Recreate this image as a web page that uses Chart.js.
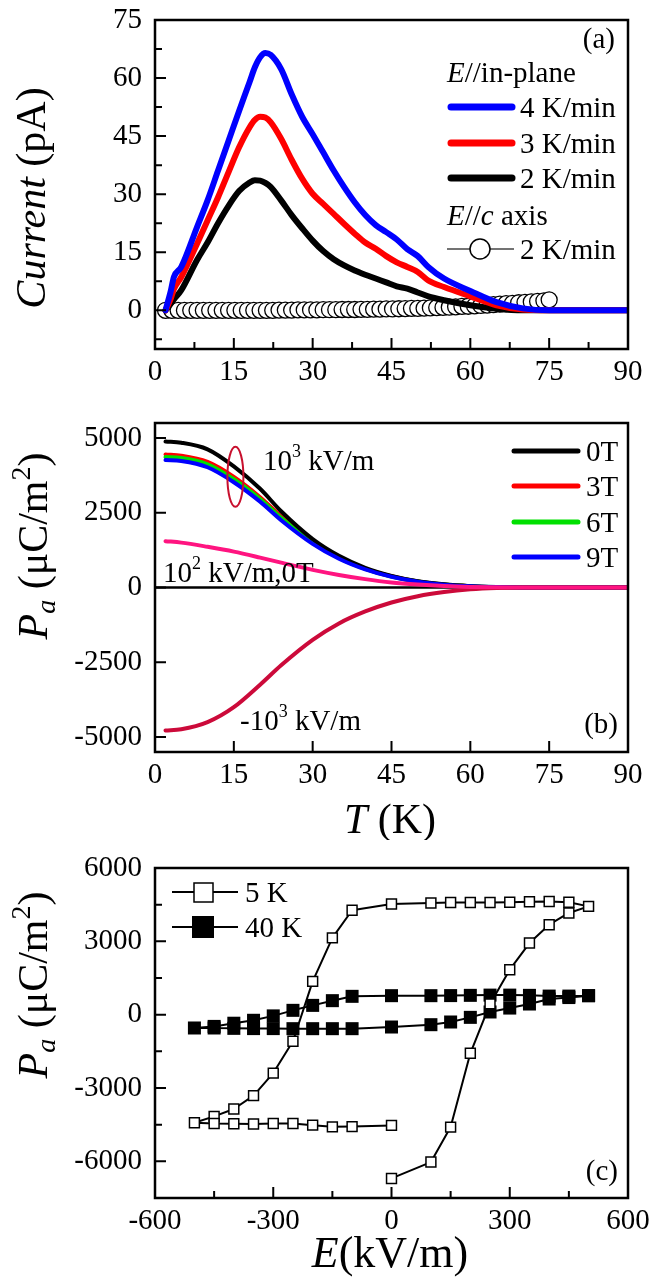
<!DOCTYPE html>
<html>
<head>
<meta charset="utf-8">
<script src="https://cdn.jsdelivr.net/npm/chart.js@4.4.1/dist/chart.umd.min.js"></script>
<style>
  html, body { margin: 0; padding: 0; background: #fff; }
  .panel { position: absolute; left: 0; width: 656px; }
  #pa { top: 0; height: 400px; }
  #pb { top: 400px; height: 440px; }
  #pc { top: 840px; height: 446px; }
  #warm { position: absolute; left: -1000px; top: 0; font-family: "Liberation Serif"; font-size: 20px; }
</style>
</head>
<body>
<div id="warm">0123 <i>Current</i> μC</div>
<div class="panel" id="pa"><canvas id="chartA"></canvas></div>
<div class="panel" id="pb"><canvas id="chartB"></canvas></div>
<div class="panel" id="pc"><canvas id="chartC"></canvas></div>
<script>
const FONT = '"Liberation Serif", "DejaVu Serif", serif';

// panel (a): pyroelectric current
const tempA = [2, 3, 3.6, 5, 8, 10, 12, 14, 16, 18, 19, 20, 21, 22, 24, 26, 28, 30, 32, 34, 36, 38, 40, 42, 44, 46, 48, 50, 52, 55, 60, 65, 70, 75, 80, 85, 90];
const cur4K = [0, 5.0, 8.6, 11.2, 21.5, 28.4, 36.1, 43.8, 51.5, 59.0, 62.8, 65.4, 66.5, 66.0, 62.3, 55.8, 50.0, 45.5, 40.8, 36.1, 31.8, 27.9, 24.6, 22.0, 20.2, 18.3, 15.8, 14.0, 11.2, 8.2, 5.0, 2.1, 0.5, 0, 0, 0, 0];
const cur3K = [0, 3.0, 5.5, 8.6, 17.2, 23.2, 29.2, 35.7, 42.1, 47.3, 49.2, 50.0, 49.8, 48.6, 44.3, 38.9, 34.0, 30.1, 27.5, 24.9, 22.3, 19.8, 17.5, 15.9, 14.0, 12.4, 11.2, 9.9, 7.7, 6.0, 3.6, 1.3, 0.2, 0, 0, 0, 0];
const cur2K = [0, 1.7, 2.8, 5.2, 13.0, 17.5, 22.5, 27.0, 30.8, 33.0, 33.6, 33.5, 32.9, 31.9, 28.4, 24.6, 21.2, 18.0, 15.3, 13.2, 11.6, 10.3, 9.2, 8.2, 7.2, 6.2, 5.6, 4.6, 3.6, 2.6, 1.3, 0.4, 0, 0, 0, 0, 0];
const tempCax = [2, 3.2, 4.4, 5.6, 6.8, 8, 9.2, 10.4, 11.6, 12.8, 14, 15.2, 16.4, 17.6, 18.8, 20, 21.2, 22.4, 23.6, 24.8, 26, 27.2, 28.4, 29.6, 30.8, 32, 33.2, 34.4, 35.6, 36.8, 38, 39.2, 40.4, 41.6, 42.8, 44, 45.2, 46.4, 47.6, 48.8, 50, 51.2, 52.4, 53.6, 54.8, 56, 57.2, 58.4, 59.6, 60.8, 62, 63.2, 64.4, 65.6, 66.8, 68, 69.2, 70.4, 71.6, 72.8, 74, 75];
const curCax = [0, 0, 0, 0, 0, 0, 0, 0, 0, 0, 0, 0, 0, 0, 0, 0, 0, 0, 0.05, 0.05, 0.05, 0.1, 0.1, 0.1, 0.1, 0.15, 0.15, 0.15, 0.2, 0.2, 0.2, 0.25, 0.25, 0.3, 0.3, 0.35, 0.35, 0.4, 0.45, 0.5, 0.5, 0.55, 0.6, 0.7, 0.75, 0.8, 0.9, 1.0, 1.05, 1.15, 1.25, 1.35, 1.45, 1.6, 1.7, 1.8, 1.95, 2.05, 2.15, 2.3, 2.45, 2.7];
const namesA = ['4 K/min', '3 K/min', '2 K/min'];
const xTicksA = [0, 15, 30, 45, 60, 75, 90];
const xMinorA = [7.5, 22.5, 37.5, 52.5, 67.5, 82.5];
const yTicksA = [0, 15, 30, 45, 60, 75];
const yMinorA = [-7.5, 7.5, 22.5, 37.5, 52.5, 67.5];

// panel (b): polarization vs T
const tempB = [2, 5, 10, 15, 20, 24, 30, 35, 40, 45, 50, 55, 60, 65, 70, 75, 80, 85, 90];
const pol0T = [4880, 4840, 4620, 4050, 3300, 2550, 1620, 1060, 660, 390, 210, 105, 45, 15, 3, 0, 0, 0, 0];
const pol3T = [4450, 4410, 4200, 3700, 3020, 2380, 1540, 1010, 635, 375, 200, 100, 42, 14, 3, 0, 0, 0, 0];
const pol6T = [4360, 4330, 4120, 3620, 2960, 2330, 1510, 990, 625, 370, 198, 99, 41, 14, 3, 0, 0, 0, 0];
const pol9T = [4260, 4230, 4020, 3520, 2870, 2250, 1460, 960, 605, 360, 193, 96, 40, 13, 3, 0, 0, 0, 0];
const polLow = [1550, 1500, 1360, 1200, 1000, 830, 590, 420, 280, 170, 100, 50, 20, 6, 0, 0, 0, 0, 0];
const polNeg = [-4780, -4740, -4500, -4000, -3250, -2600, -1750, -1200, -800, -500, -290, -150, -60, -15, 0, 0, 0, 0, 0];
const namesB = ['0T', '3T', '6T', '9T'];
const xTicksB = [0, 15, 30, 45, 60, 75, 90];
const yTicksB = [-5000, -2500, 0, 2500, 5000];

// panel (c): P-E loops
const field5K = [0, 100, 150, 200, 250, 300, 350, 400, 450, 500, 450, 400, 350, 300, 250, 200, 150, 100, 0, -100, -150, -200, -250, -300, -350, -400, -450, -500, -450, -400, -350, -300, -250, -200, -150, -100, 0];
const pol5K = [-6700, -6030, -4600, -1580, 440, 1840, 2930, 3680, 4160, 4430, 4600, 4630, 4620, 4600, 4590, 4590, 4590, 4570, 4530, 4270, 3140, 1360, -1090, -2390, -3310, -3860, -4160, -4420, -4450, -4460, -4470, -4450, -4450, -4520, -4590, -4580, -4530];
const field40K = [500, 450, 400, 350, 300, 250, 200, 150, 100, 0, -100, -150, -200, -250, -300, -350, -400, -450, -500, -450, -400, -350, -300, -250, -200, -150, -100, 0, 100, 150, 200, 250, 300, 350, 400, 450, 500];
const pol40K = [777, 760, 760, 790, 800, 800, 790, 780, 777, 777, 750, 573, 380, 177, -50, -230, -350, -480, -545, -545, -560, -570, -570, -573, -573, -573, -573, -505, -410, -300, -110, 110, 270, 436, 640, 700, 777];
const namesC = ['5 K', '40 K'];
const xTicksC = [-600, -300, 0, 300, 600];
const xMinorC = [-450, -150, 150, 450];
const yTicksC = [-6000, -3000, 0, 3000, 6000];
const yMinorC = [-4500, -1500, 1500, 4500];

const f = s => s + 'px ' + FONT;
const fi = s => 'italic ' + s + 'px ' + FONT;

function pts(xs, ys) {
  return xs.map((x, i) => ({ x: x, y: ys[i] }));
}

function axis(min, max, ticks, size, isX) {
  return {
    type: 'linear', min: min, max: max,
    grid: { display: false, drawTicks: false },
    border: { display: false },
    ticks: {
      font: { family: FONT, size: 29 }, color: '#000',
      padding: isX ? 6 : 13, autoSkip: false, maxRotation: 0,
      callback: v => String(v)
    },
    afterBuildTicks: s => { s.ticks = ticks.map(v => ({ value: v })); },
    afterFit: s => {
      if (isX) s.height = size; else s.width = size;
      s.paddingTop = s.paddingBottom = s.paddingLeft = s.paddingRight = 0;
    }
  };
}

// mixed-font text: parts = [[text, font, dy], ...], y is the baseline
function runs(ctx, parts, x, y, align) {
  let w = 0;
  parts.forEach(p => { ctx.font = p[1]; w += ctx.measureText(p[0]).width; });
  let cx = align === 'center' ? x - w / 2 : (align === 'right' ? x - w : x);
  ctx.textAlign = 'left';
  ctx.textBaseline = 'alphabetic';
  parts.forEach(p => {
    ctx.font = p[1];
    ctx.fillText(p[0], cx, y + (p[2] || 0));
    cx += ctx.measureText(p[0]).width;
  });
}

function vtitle(ctx, parts, x, y) {
  ctx.save();
  ctx.translate(x, y);
  ctx.rotate(-Math.PI / 2);
  runs(ctx, parts, 0, 0, 'center');
  ctx.restore();
}

function seg(ctx, x1, y1, x2, y2) {
  ctx.beginPath(); ctx.moveTo(x1, y1); ctx.lineTo(x2, y2); ctx.stroke();
}

function drawFrame(chart, xMajor, xMinor, yMajor, yMinor) {
  const ctx = chart.ctx, a = chart.chartArea, x = chart.scales.x, y = chart.scales.y;
  ctx.save();
  ctx.strokeStyle = '#000';
  ctx.lineWidth = 2;
  ctx.beginPath();
  xMajor.forEach(v => { const p = x.getPixelForValue(v); ctx.moveTo(p, a.bottom); ctx.lineTo(p, a.bottom - 11); });
  xMinor.forEach(v => { const p = x.getPixelForValue(v); ctx.moveTo(p, a.bottom); ctx.lineTo(p, a.bottom - 7); });
  yMajor.forEach(v => { const p = y.getPixelForValue(v); ctx.moveTo(a.left, p); ctx.lineTo(a.left + 11, p); });
  yMinor.forEach(v => { const p = y.getPixelForValue(v); ctx.moveTo(a.left, p); ctx.lineTo(a.left + 7, p); });
  ctx.stroke();
  ctx.lineWidth = 2.5;
  ctx.strokeRect(a.left, a.top, a.right - a.left, a.bottom - a.top);
  ctx.restore();
}

function baseOptions(padTop, xs, ys) {
  return {
    responsive: true, maintainAspectRatio: false, animation: false, devicePixelRatio: 1,
    layout: { padding: { top: padTop, right: 28, left: 0, bottom: 0 } },
    plugins: { legend: { display: false }, tooltip: { enabled: false } },
    scales: { x: xs, y: ys },
    elements: { point: { radius: 0 }, line: { borderCapStyle: 'round', borderJoinStyle: 'round' } }
  };
}

// ---------- (a) ----------
const colorsA = ['#0000ff', '#ff0000', '#000000'];
const decorA = {
  id: 'decorA',
  afterDatasetsDraw(chart) {
    const ctx = chart.ctx;
    drawFrame(chart, xTicksA, xMinorA, yTicksA, yMinorA);
    ctx.save();
    ctx.fillStyle = '#000';
    runs(ctx, [['(a)', f(29)]], 615, 48, 'right');
    runs(ctx, [['E', fi(29)], ['//in-plane', f(29)]], 447, 82, 'left');
    [107, 143, 178].forEach((yy, i) => {
      ctx.strokeStyle = colorsA[i]; ctx.lineWidth = 7; ctx.lineCap = 'round';
      seg(ctx, 451, yy, 512, yy);
      runs(ctx, [[namesA[i], f(29)]], 520, yy + 10, 'left');
    });
    runs(ctx, [['E', fi(29)], ['//', f(29)], ['c', fi(29)], [' axis', f(29)]], 447, 225, 'left');
    ctx.strokeStyle = '#444'; ctx.lineWidth = 1.5; ctx.lineCap = 'butt';
    seg(ctx, 447, 249, 514, 249);
    ctx.beginPath(); ctx.arc(480, 249, 10, 0, Math.PI * 2);
    ctx.fillStyle = '#fff'; ctx.fill();
    ctx.strokeStyle = '#000'; ctx.stroke();
    ctx.fillStyle = '#000';
    runs(ctx, [['2 K/min', f(29)]], 520, 259, 'left');
    vtitle(ctx, [['Current', fi(42)], [' (pA)', f(42)]], 45, 198);
    ctx.restore();
  }
};

// ---------- (b) ----------
const colorsB = ['#000000', '#ff0000', '#00e000', '#0000ff'];
const decorB = {
  id: 'decorB',
  beforeDatasetsDraw(chart) {
    const ctx = chart.ctx, a = chart.chartArea, y0 = chart.scales.y.getPixelForValue(0);
    ctx.save();
    ctx.strokeStyle = '#000'; ctx.lineWidth = 2.5;
    seg(ctx, a.left, y0, a.right, y0);
    ctx.restore();
  },
  afterDatasetsDraw(chart) {
    const ctx = chart.ctx, x = chart.scales.x, y = chart.scales.y;
    const o = 400;
    drawFrame(chart, xTicksB, [], yTicksB, []);
    ctx.save();
    ctx.fillStyle = '#000';
    [451, 486, 522, 557].forEach((yy, i) => {
      ctx.strokeStyle = colorsB[i]; ctx.lineWidth = 5; ctx.lineCap = 'round';
      seg(ctx, 514, yy - o, 578, yy - o);
      runs(ctx, [[namesB[i], f(29)]], 586, yy - o + 10, 'left');
    });
    runs(ctx, [['10', f(29)], ['3', f(18), -13], [' kV/m', f(29)]], 263, 470 - o, 'left');
    runs(ctx, [['10', f(29)], ['2', f(18), -13], [' kV/m,0T', f(29)]], 163, 582 - o, 'left');
    runs(ctx, [['-10', f(29)], ['3', f(18), -13], [' kV/m', f(29)]], 240, 730 - o, 'left');
    runs(ctx, [['(b)', f(29)]], 618, 733 - o, 'right');
    // ellipse marking the 10^3 kV/m curves
    ctx.strokeStyle = '#c8102e'; ctx.lineWidth = 2;
    ctx.beginPath();
    ctx.ellipse(x.getPixelForValue(15.3), y.getPixelForValue(3700), 8, 30, 0, 0, Math.PI * 2);
    ctx.stroke();
    vtitle(ctx, [['P', fi(42)], ['a', fi(28), 8], [' (\u03bcC/m', f(42)], ['2', f(28), -17], [')', f(42)]], 47, 546 - o);
    runs(ctx, [['T', fi(42)], [' (K)', f(42)]], 390, 833 - o, 'center');
    ctx.restore();
  }
};

// ---------- (c) ----------
const decorC = {
  id: 'decorC',
  afterDatasetsDraw(chart) {
    const ctx = chart.ctx;
    const o = 840;
    drawFrame(chart, xTicksC, xMinorC, yTicksC, yMinorC);
    ctx.save();
    ctx.fillStyle = '#000';
    ctx.strokeStyle = '#000'; ctx.lineWidth = 2;
    seg(ctx, 172, 892 - o, 238, 892 - o);
    seg(ctx, 172, 927 - o, 238, 927 - o);
    ctx.fillStyle = '#fff'; ctx.lineWidth = 1.5;
    ctx.fillRect(194, 883 - o, 19, 19); ctx.strokeRect(194, 883 - o, 19, 19);
    ctx.fillStyle = '#000';
    ctx.fillRect(192, 916 - o, 22, 22);
    runs(ctx, [[namesC[0], f(29)]], 245, 902 - o, 'left');
    runs(ctx, [[namesC[1], f(29)]], 245, 937 - o, 'left');
    runs(ctx, [['(c)', f(29)]], 618, 1180 - o, 'right');
    vtitle(ctx, [['P', fi(42)], ['a', fi(28), 8], [' (\u03bcC/m', f(42)], ['2', f(28), -17], [')', f(42)]], 47, 985 - o);
    runs(ctx, [['E', fi(44)], ['(kV/m)', f(44)]], 390, 1267 - o, 'center');
    ctx.restore();
  }
};

function build() {
  new Chart(document.getElementById('chartA'), {
    type: 'line',
    data: {
      datasets: [
        { data: pts(tempA, cur4K), borderColor: colorsA[0], borderWidth: 6, cubicInterpolationMode: 'monotone', order: 0 },
        { data: pts(tempA, cur3K), borderColor: colorsA[1], borderWidth: 6, cubicInterpolationMode: 'monotone', order: 1 },
        { data: pts(tempA, cur2K), borderColor: colorsA[2], borderWidth: 6, cubicInterpolationMode: 'monotone', order: 2 },
        { data: pts(tempCax, curCax), borderColor: '#000', borderWidth: 1, pointRadius: 8, pointStyle: 'circle',
          pointBackgroundColor: '#fff', pointBorderColor: '#000', pointBorderWidth: 1.3, order: 3 }
      ]
    },
    options: baseOptions(20, axis(0, 90, xTicksA, 51, true), axis(-10, 75, yTicksA, 155, false)),
    plugins: [decorA]
  });

  new Chart(document.getElementById('chartB'), {
    type: 'line',
    data: {
      datasets: [
        { data: pts(tempB, pol0T), borderColor: colorsB[0], borderWidth: 4, cubicInterpolationMode: 'monotone', order: 3 },
        { data: pts(tempB, pol3T), borderColor: colorsB[1], borderWidth: 4, cubicInterpolationMode: 'monotone', order: 5 },
        { data: pts(tempB, pol6T), borderColor: colorsB[2], borderWidth: 4, cubicInterpolationMode: 'monotone', order: 4 },
        { data: pts(tempB, pol9T), borderColor: colorsB[3], borderWidth: 4, cubicInterpolationMode: 'monotone', order: 2 },
        { data: pts(tempB, polLow), borderColor: '#ff1480', borderWidth: 4, cubicInterpolationMode: 'monotone', order: 0 },
        { data: pts(tempB, polNeg), borderColor: '#cc0a3a', borderWidth: 4, cubicInterpolationMode: 'monotone', order: 1 }
      ]
    },
    options: baseOptions(23, axis(0, 90, xTicksB, 88, true), axis(-5500, 5500, yTicksB, 155, false)),
    plugins: [decorB]
  });

  new Chart(document.getElementById('chartC'), {
    type: 'line',
    data: {
      datasets: [
        { data: pts(field5K, pol5K), borderColor: '#000', borderWidth: 2, pointRadius: 7, pointStyle: 'rect',
          pointBackgroundColor: '#fff', pointBorderColor: '#000', pointBorderWidth: 1.5, order: 0 },
        { data: pts(field40K, pol40K), borderColor: '#000', borderWidth: 2, pointRadius: 9.2, pointStyle: 'rect',
          pointBackgroundColor: '#000', pointBorderColor: '#000', pointBorderWidth: 0, order: 1 }
      ]
    },
    options: baseOptions(28, axis(-600, 600, xTicksC, 88, true), axis(-7500, 6000, yTicksC, 155, false)),
    plugins: [decorC]
  });
}

Promise.all([
  document.fonts.load('29px "Liberation Serif"'),
  document.fonts.load('italic 29px "Liberation Serif"')
]).then(build, build);
</script>
</body>
</html>
